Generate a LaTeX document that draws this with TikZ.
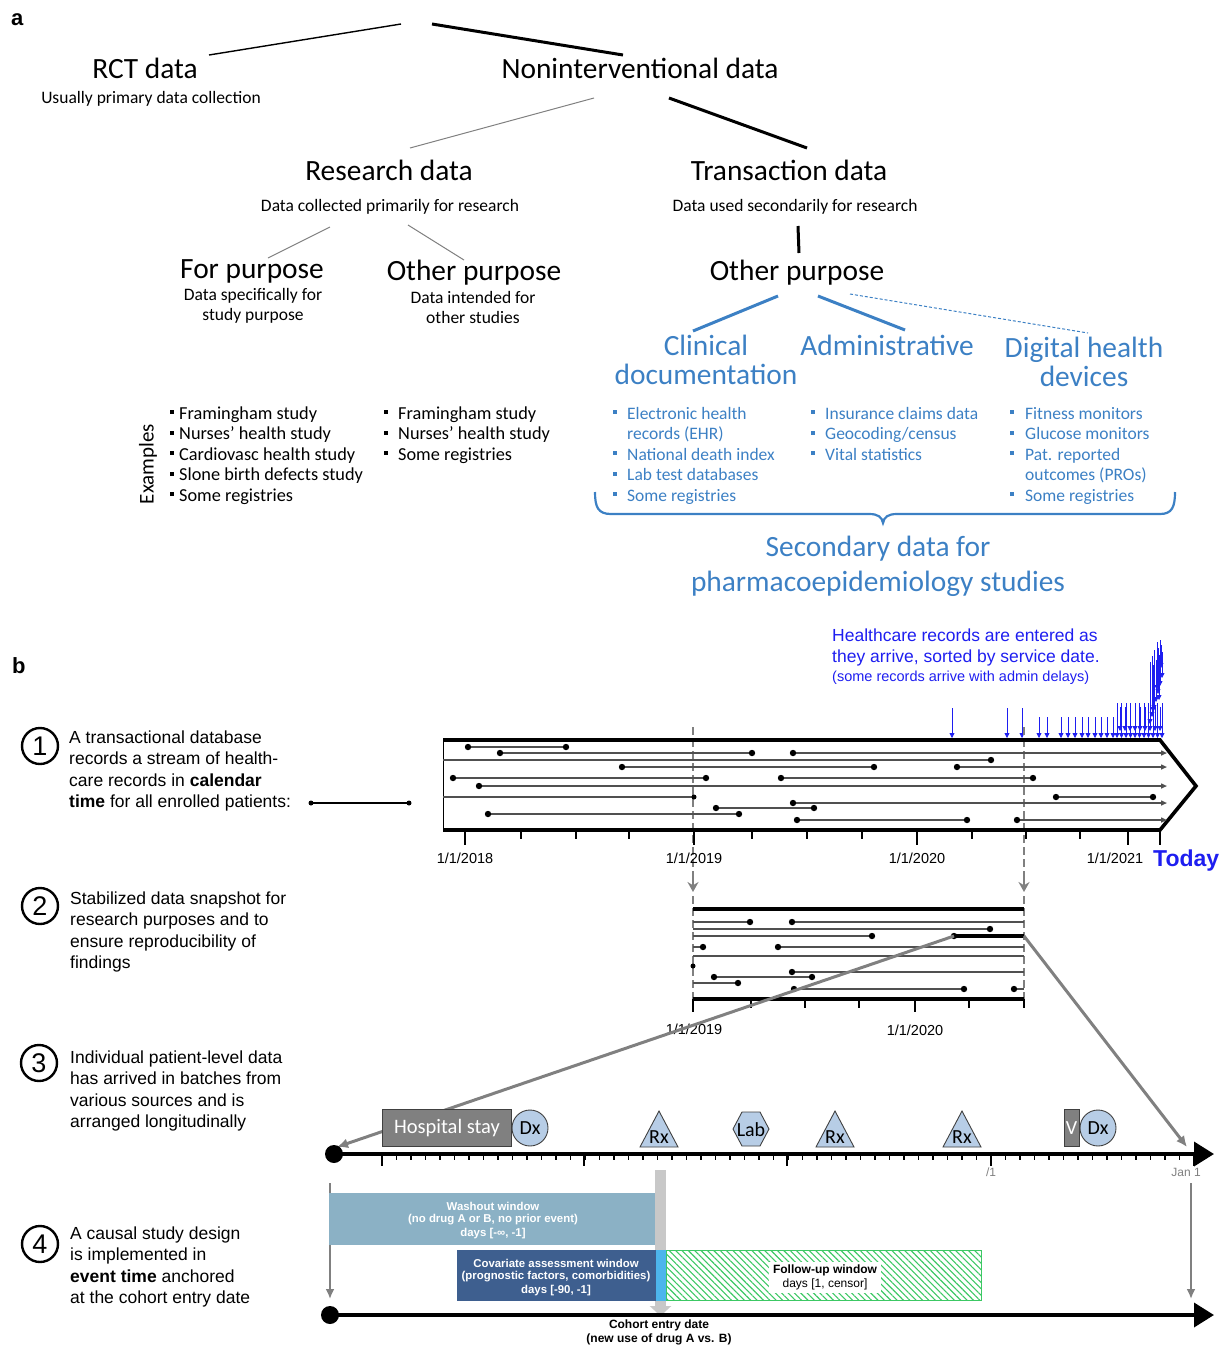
\documentclass[tikz,border=0pt]{standalone}
\usepackage{fontspec}
\setmainfont{Carlito}
\newfontfamily\arialf{Liberation Sans}
\usetikzlibrary{arrows.meta,patterns.meta,shapes.geometric}
\definecolor{ablue}{RGB}{60,128,196}
\definecolor{bblue}{RGB}{30,30,240}
\definecolor{mk}{RGB}{183,205,230}
\definecolor{wash}{RGB}{139,177,197}
\definecolor{cov}{RGB}{62,95,143}
\definecolor{cyanst}{RGB}{77,181,236}
\definecolor{hatchg}{RGB}{60,200,100}
\definecolor{lgray}{RGB}{200,200,200}
\definecolor{seggray}{RGB}{80,80,80}
\definecolor{lngray}{RGB}{128,128,128}
\begin{document}
\begin{tikzpicture}[x=1pt,y=-1pt,
  big/.style={font=\fontsize{29.4}{33}\selectfont,inner sep=0pt,anchor=base},
  sm/.style={font=\fontsize{17.5}{20}\selectfont,inner sep=0pt,anchor=base},
  lst/.style={font=\fontsize{17.5}{20}\selectfont,inner sep=0pt,anchor=base west},
  lstk/.style={font=\fontsize{18.3}{20}\selectfont,inner sep=0pt,anchor=base west},
  bt/.style={font=\arialf\fontsize{17.5}{21}\selectfont,inner sep=0pt,anchor=base west},
  yr/.style={font=\arialf\fontsize{14.5}{16}\selectfont,inner sep=0pt,anchor=base},
  num/.style={circle,draw,line width=2.4,minimum size=36,inner sep=0pt,font=\arialf\fontsize{27}{28}\selectfont},
  thinline/.style={lngray,line width=1},
  segl/.style={seggray,line width=1.4},
  segarr/.style={seggray,line width=1.4,-{Triangle[length=6,width=5]}},
  barr/.style={bblue,line width=0.8,-{Triangle[length=5,width=5]}},
  vdash/.style={lngray,line width=2.6,dash pattern=on 8 off 4},
  garr/.style={lngray,line width=3,-{Latex[length=11,width=10]}},
  mkr/.style={draw=black!75,fill=mk,line width=0.9},
  mtxt/.style={font=\fontsize{20}{22}\selectfont,inner sep=0pt,anchor=base},
  wtxt/.style={font=\arialf\bfseries\fontsize{11.4}{13}\selectfont,inner sep=0pt,text=white},
  axarr/.style={line width=3.6,-{Triangle[length=20,width=24]}}
]
\useasboundingbox (0,0) rectangle (1229,1345);

% ---------------- panel a ----------------
\node[font=\arialf\bfseries\fontsize{22}{24}\selectfont,anchor=base west,inner sep=0pt] (la) at (11,25) {a};
\node[big] (rct) at (145,78) {RCT data};
\node[sm] (rcts) at (151,103) {Usually primary data collection};
\node[big] (nonint) at (640,78) {Noninterventional data};
\draw[line width=1.4] (209,55) -- (401,24);
\draw[line width=3] (432,24) -- (623,55);

\node[big] (res) at (389,180) {Research data};
\node[sm] (ress) at (390,211) {Data collected primarily for research};
\node[big] (tra) at (789,180) {Transaction data};
\node[sm] (tras) at (795,211) {Data used secondarily for research};
\draw[thinline] (594,98) -- (410,148);
\draw[line width=3] (669,98) -- (807,148);

\node[big] (forp) at (252,278) {For purpose};
\node[sm] (forp1) at (253,300) {Data specifically for};
\node[sm] (forp2) at (253,320) {study purpose};
\node[big] (othp) at (474,280) {Other purpose};
\node[sm] (othp1) at (473,303) {Data intended for};
\node[sm] (othp2) at (473,323) {other studies};
\draw[thinline] (330,227) -- (268,258);
\draw[thinline] (408,225) -- (464,260);
\draw[line width=3] (798,226) -- (799,253);
\node[big] (othr) at (797,280) {Other purpose};

\draw[ablue,line width=3] (778,296) -- (693,331);
\draw[ablue,line width=3] (818,296) -- (905,330);
\draw[ablue,line width=1,dash pattern=on 3 off 2] (850,294) -- (1088,333);

\node[big,text=ablue] (clin1) at (706,355) {Clinical};
\node[big,text=ablue] (clin2) at (706,384) {documentation};
\node[big,text=ablue] (adm) at (887,355) {Administrative};
\node[big,text=ablue] (dig1) at (1084,357) {Digital health};
\node[big,text=ablue] (dig2) at (1084,386) {devices};

\node[font=\fontsize{21}{23}\selectfont,rotate=90,inner sep=0pt] (ex) at (148,464) {Examples};

% left list
\foreach \t [count=\i] in {Framingham study,Nurses’ health study,Cardiovasc health study,Slone birth defects study,Some registries}{
  \pgfmathsetmacro{\yy}{419+20.5*(\i-1)}
  \fill (170,\yy-9) rectangle (174,\yy-5);
  \node[lstk] (la\i) at (179,\yy) {\t};
}
% middle list
\foreach \t [count=\i] in {Framingham study,Nurses’ health study,Some registries}{
  \pgfmathsetmacro{\yy}{419+20.5*(\i-1)}
  \fill (384,\yy-9) rectangle (388,\yy-5);
  \node[lstk] (lb\i) at (398,\yy) {\t};
}
% blue lists
\begin{scope}[ablue]
\foreach \t/\b [count=\i] in {Electronic health/1,records (EHR)/0,National death index/1,Lab test databases/1,Some registries/1}{
  \pgfmathsetmacro{\yy}{419+20.5*(\i-1)}
  \ifnum\b=1 \fill (613,\yy-9) rectangle (617,\yy-5); \fi
  \node[lst,text=ablue] (lc\i) at (627,\yy) {\t};
}
\foreach \t [count=\i] in {Insurance claims data,Geocoding/census,Vital statistics}{
  \pgfmathsetmacro{\yy}{419+20.5*(\i-1)}
  \fill (811,\yy-9) rectangle (815,\yy-5);
  \node[lst,text=ablue] (ld\i) at (825,\yy) {\t};
}
\foreach \t/\b [count=\i] in {Fitness monitors/1,Glucose monitors/1,Pat. reported/1,outcomes (PROs)/0,Some registries/1}{
  \pgfmathsetmacro{\yy}{419+20.5*(\i-1)}
  \ifnum\b=1 \fill (1010,\yy-9) rectangle (1014,\yy-5); \fi
  \node[lst,text=ablue] (le\i) at (1025,\yy) {\t};
}
\end{scope}
\draw[ablue,line width=2.2] (595,492) .. controls (595,507) and (598,514) .. (611,514) -- (869,514)
  .. controls (878,514) and (882,517) .. (883,523) .. controls (884,517) and (888,514) .. (897,514)
  -- (1160,514) .. controls (1172,514) and (1175,507) .. (1175,492);
\node[big,text=ablue] (sec1) at (878,556) {Secondary data for};
\node[big,text=ablue] (sec2) at (878,591) {pharmacoepidemiology studies};

% ---------------- panel b ----------------
\node[font=\arialf\bfseries\fontsize{22}{24}\selectfont,anchor=base west,inner sep=0pt] (lb) at (12,673) {b};

\node[num] (n1) at (40,746) {1};
\node[num] (n2) at (40,906) {2};
\node[num] (n3) at (39,1063) {3};
\node[num] (n4) at (40,1244) {4};

\foreach \t [count=\i] in {A transactional database,records a stream of health-,{care records in \textbf{calendar}},{\textbf{time} for all enrolled patients:}}
  \node[bt] (s1-\i) at (69,{743+21.5*(\i-1)}) {\t};
\foreach \t [count=\i] in {Stabilized data snapshot for,research purposes and to,ensure reproducibility of,findings}
  \node[bt] (s2-\i) at (70,{904+21.5*(\i-1)}) {\t};
\foreach \t [count=\i] in {Individual patient-level data,has arrived in batches from,various sources and is,arranged longitudinally}
  \node[bt] (s3-\i) at (70,{1063+21.5*(\i-1)}) {\t};
\foreach \t [count=\i] in {A causal study design,is implemented in,{\textbf{event time} anchored},at the cohort entry date}
  \node[bt] (s4-\i) at (70,{1239+21.5*(\i-1)}) {\t};

% legend segment
\draw[segl,black] (311,803) -- (409,803);
\fill (311,803) circle (2.5) (409,803) circle (2.5);

% blue header
\node[bt,text=bblue] (h1) at (832,641) {Healthcare records are entered as};
\node[bt,text=bblue] (h2) at (832,662.5) {they arrive, sorted by service date.};
\node[bt,text=bblue,font=\arialf\fontsize{14.5}{16}\selectfont] (h3) at (832,681) {(some records arrive with admin delays)};

% blue arrival arrows
\foreach \x/\s in {952/708,1007/708,1022/708,1039/717,1047/717,1061/717,1068/717,1075/717,1082/717,1088/717,1095/717,1101/717,1107/717,1113/717}
  \draw[barr] (\x,\s) -- (\x,738);
\foreach \x in {1117,1121.5,...,1163}
  \draw[barr] (\x,703) -- (\x,738);
\foreach \x in {1120,1125,...,1161}
  \draw[barr] (\x,707) -- (\x,731);
\foreach \x/\a/\b in {1150/662/724,1152/656/717,1154/650/710,1156/660/702,1158/648/694,1160/640/686,1162/652/678,1161/645/668,1159/655/700,1153/665/712,1157/642/690}
  \draw[barr] (\x,\a) -- (\x,\b);

% dashed calendar cut lines
\draw[vdash] (693,727) -- (693,880);
\draw[lngray,line width=2.6,-{Stealth[length=10,width=11]}] (693,876) -- (693,892);
\draw[vdash] (1024,727) -- (1024,880);
\draw[lngray,line width=2.6,-{Stealth[length=10,width=11]}] (1024,876) -- (1024,892);

% calendar box
\draw[line width=1] (443,740) -- (443,830);
\draw[line width=3.6,line join=miter] (443,740) -- (1160,740) -- (1196,786) -- (1160,830) -- (443,830);

% patient segments in calendar time
\foreach \y/\a/\b in {747/468/566,753/500/752,767/622/874,778/453/706,778/781/1033,797/1056/1153,808/716/814,814/488/739,820/797/967}{
  \draw[segl] (\a,\y) -- (\b,\y);
  \fill (\a,\y) circle (3.2) (\b,\y) circle (3.2);
}
\foreach \y/\a in {753/793,767/957,786/479,803/793,820/1017}{
  \draw[segarr] (\a,\y) -- (1167,\y);
  \fill (\a,\y) circle (3.2);
}
\draw[segl] (443,760) -- (991,760); \fill (991,760) circle (3.2);
\draw[segl] (443,797) -- (694,797); \fill (694,797) circle (2.5);

% calendar ticks
\foreach \x in {465,694,917,1128,1160} \draw[line width=2.6] (\x,831) -- (\x,845);
\foreach \x in {521,576,629,752,807,862,972,1026,1080} \draw[line width=1.4] (\x,831) -- (\x,839);
\node[yr] (y18) at (465,863) {1/1/2018};
\node[yr] (y19) at (694,863) {1/1/2019};
\node[yr] (y20) at (917,863) {1/1/2020};
\node[yr] (y21) at (1115,863) {1/1/2021};
\node[font=\arialf\bfseries\fontsize{23}{25}\selectfont,text=bblue,inner sep=0pt,anchor=base west] (today) at (1153,866) {Today};

% snapshot
\draw[vdash] (693,896) -- (693,1000);
\draw[vdash] (1024,896) -- (1024,1000);
\foreach \y/\a/\b in {922/693/750,929/693/990,936/693/872,947/693/703,956/693/1024,972/792/1024,977/714/812,983/693/738,989/794/964,989/1014/1024,922/792/1024,947/778/1024}
  \draw[segl] (\a,\y) -- (\b,\y);
\foreach \x/\y in {750/922,792/922,990/929,872/936,954/936,703/947,778/947,792/972,714/977,812/977,738/983,794/989,964/989,1014/989}
  \fill (\x,\y) circle (3.2);
\fill (693,966) circle (2.5);
\draw[line width=3.6] (954,936) -- (1024,936);
\draw[line width=3.6] (693,909) -- (1024,909);
\draw[line width=3.6] (693,999) -- (1024,999);
\foreach \x in {693,915} \draw[line width=2.6] (\x,999) -- (\x,1012);
\foreach \x in {751,805,859,969,1024} \draw[line width=1.4] (\x,999) -- (\x,1008);
\node[yr] (sy19) at (694,1034) {1/1/2019};
\node[yr] (sy20) at (915,1035) {1/1/2020};

% zoom connectors
\coordinate (snapL) at (954,936);
\coordinate (snapR) at (1024,936);
\coordinate (evL) at (337,1147);
\coordinate (evR) at (1187,1147);
\draw[garr] (snapL) -- (evL);
\draw[garr] (snapR) -- (evR);

% event axis
\fill (334,1154) circle (9);
\draw[axarr] (334,1154) -- (1214,1154);
\foreach \x in {382,396.5,...,1194} \draw[line width=1.2] (\x,1154) -- (\x,1160);
\foreach \x in {382,584,787,991,1194} \draw[line width=2] (\x,1154) -- (\x,1166);
\node[font=\arialf\fontsize{12}{13}\selectfont,text=lngray,inner sep=0pt,anchor=base] (ej) at (991,1176) {/1};
\node[font=\arialf\fontsize{12}{13}\selectfont,text=lngray,inner sep=0pt,anchor=base] (jan) at (1186,1176) {Jan 1};

% event markers
\node[draw=black!75,fill=lngray,line width=0.9,minimum width=129,minimum height=37,inner sep=0pt,
      font=\fontsize{20.5}{22}\selectfont,text=white] (hosp) at (447,1128) {Hospital stay};
\node[mkr,circle,minimum size=36,inner sep=0pt,font=\fontsize{20}{22}\selectfont] (dx1) at (530,1128) {Dx};
\draw[mkr] (659,1111) -- (678,1147) -- (640,1147) -- cycle;
\node[mtxt] (rx1) at (659,1143) {Rx};
\draw[mkr] (733,1129) -- (742,1112) -- (760,1112) -- (769,1129) -- (760,1146) -- (742,1146) -- cycle;
\node[mtxt] (lab) at (751,1136) {Lab};
\draw[mkr] (835,1111) -- (854,1147) -- (816,1147) -- cycle;
\node[mtxt] (rx2) at (835,1143) {Rx};
\draw[mkr] (962,1111) -- (981,1147) -- (943,1147) -- cycle;
\node[mtxt] (rx3) at (962,1143) {Rx};
\node[draw=black!75,fill=lngray,line width=0.9,minimum width=15,minimum height=37,inner sep=0pt,
      font=\fontsize{20}{22}\selectfont,text=white] (vis) at (1071.5,1128) {V};
\node[mkr,circle,minimum size=36,inner sep=0pt,font=\fontsize{20}{22}\selectfont] (dx2) at (1098,1128) {Dx};

% event time design
\coordinate (dl1) at (330,1183); \coordinate (dl2) at (330,1299);
\coordinate (dr1) at (1191,1183); \coordinate (dr2) at (1191,1299);
\draw[lngray,line width=2.6,-{Latex[length=10,width=9]}] (dl1) -- (dl2);
\draw[lngray,line width=2.6,-{Latex[length=10,width=9]}] (dr1) -- (dr2);

\fill[wash] (329,1193) rectangle (656,1245);
\draw[lgray,line width=11,-{Triangle[length=10,width=21]}] (660.5,1170) -- (660.5,1316);
\fill[cov] (457,1250) rectangle (656,1301);
\fill[cyanst] (656,1250) rectangle (666,1301);
\draw[hatchg,line width=0.8,pattern={Lines[angle=-45,distance=4.5pt,line width=1.1pt]},pattern color=hatchg] (666.5,1250.5) rectangle (981,1300.5);
\fill[white] (769,1262) rectangle (881,1293);

\node[wtxt] (w1) at (493,1206) {Washout window};
\node[wtxt] (w2) at (493,1220) {(no drug A or B, no prior event)};
\node[wtxt] (w3) at (493,1234) {days [-∞, -1]};
\node[wtxt] (c1) at (556,1263) {Covariate assessment window};
\node[wtxt] (c2) at (556,1277) {(prognostic factors, comorbidities)};
\node[wtxt] (c3) at (556,1291) {days [-90, -1]};
\node[font=\arialf\bfseries\fontsize{12}{13}\selectfont,inner sep=0pt] (f1) at (825,1270) {Follow-up window};
\node[font=\arialf\fontsize{12}{13}\selectfont,inner sep=0pt] (f2) at (825,1284) {days [1, censor]};

\fill (330,1315) circle (9);
\draw[axarr] (330,1315) -- (1214,1315);
\node[font=\arialf\bfseries\fontsize{12}{14}\selectfont,inner sep=0pt] (coh1) at (659,1325) {Cohort entry date};
\node[font=\arialf\bfseries\fontsize{12}{14}\selectfont,inner sep=0pt] (coh2) at (659,1339) {(new use of drug A vs. B)};
\end{tikzpicture}
\end{document}
